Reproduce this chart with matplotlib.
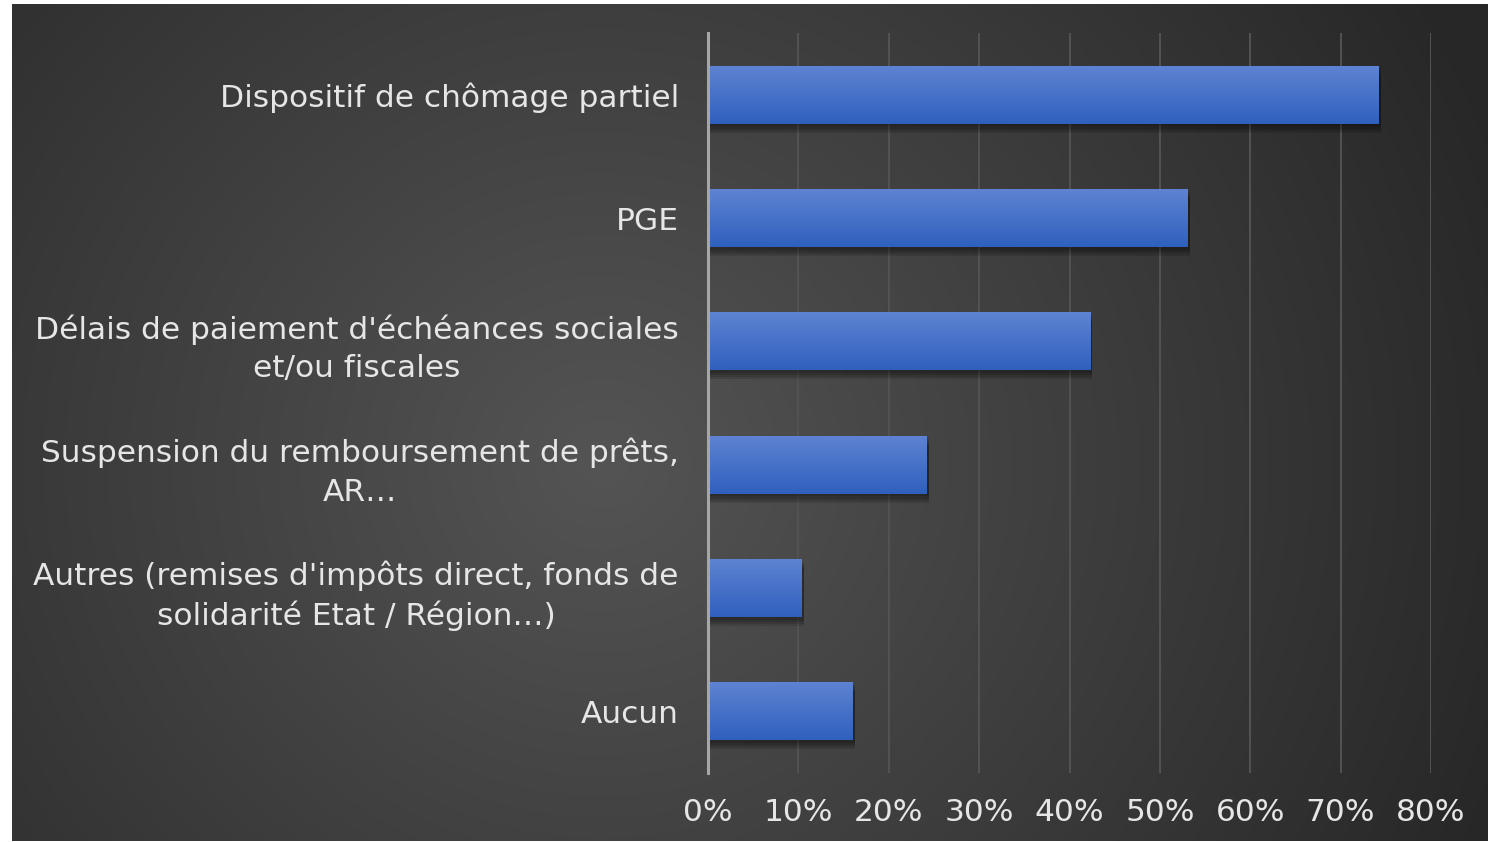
import numpy as np
import matplotlib
matplotlib.use("Agg")
import matplotlib.pyplot as plt
import matplotlib.patheffects as pe
import matplotlib.transforms as mtransforms
from matplotlib.ticker import PercentFormatter

# ── data ─────────────────────────────────────────────────────────────────────
categories = [
    "Dispositif de chômage partiel",
    "PGE",
    "Délais de paiement d'échéances sociales\net/ou fiscales",
    "Suspension du remboursement de prêts,\nAR…",
    "Autres (remises d'impôts direct, fonds de\nsolidarité Etat / Région…)",
    "Aucun",
]
values = [74.2, 53.1, 42.3, 24.2, 10.4, 16.0]
x_ticks = [0, 10, 20, 30, 40, 50, 60, 70, 80]

W, H = 1499, 842
plt.rcParams["font.family"] = ["DejaVu Sans"]

fig = plt.figure(figsize=(W / 100, H / 100), dpi=100, facecolor="white")

# ── radial gradient background ───────────────────────────────────────────────
bg = fig.add_axes([12 / W, 1 / H, (1488 - 12) / W, (841 - 4) / H])
bg.set_axis_off()
gx, gy = np.meshgrid(np.linspace(0, 1, 600), np.linspace(0, 1, 340))
r = np.sqrt(((gx - 0.40) * 1.7) ** 2 + (gy - 0.45) ** 2)
shade = np.clip(1 - r / 1.1, 0, 1)
level = 0.155 + (0.33 - 0.155) * shade
bg.imshow(np.dstack([level, level, level]), extent=[0, 1, 0, 1],
          aspect="auto", origin="lower", interpolation="bicubic")
bg.set_xlim(0, 1)
bg.set_ylim(0, 1)

# ── chart ────────────────────────────────────────────────────────────────────
ax = fig.add_axes([708 / W, 1 - 773 / H, (1431 - 708) / W, (773 - 33) / H])
ax.patch.set_alpha(0)
ypos = np.arange(len(categories))

# soft shadow: a few stacked translucent offsets
shadow = [pe.SimplePatchShadow(offset=(1.5, -k), alpha=0.12, shadow_rgbFace="black")
          for k in (2, 3.5, 5, 6.5)]
bars = ax.barh(ypos, values, height=0.47, color="#3f6cc8", zorder=3,
               path_effects=shadow + [pe.Normal()])

# vertical gradient inside each bar (light on top, darker at bottom)
grad = np.linspace(0, 1, 256).reshape(-1, 1)
top = np.array([0x5e, 0x83, 0xd2]) / 255
bottom = np.array([0x2f, 0x60, 0xbe]) / 255
rgb = (top + (bottom - top) * grad[..., None]).reshape(256, 1, 3)
for b in bars:
    x0, y0 = b.get_x(), b.get_y()
    im = ax.imshow(rgb, extent=[x0, x0 + b.get_width(), y0 + b.get_height(), y0],
                   aspect="auto", origin="upper", zorder=4)
    im.set_clip_path(b)

ax.set_xlim(0, 80)
ax.set_ylim(len(categories) - 0.5, -0.5)
ax.set_xticks(x_ticks)
ax.xaxis.set_major_formatter(PercentFormatter(decimals=0))
ax.set_yticks(ypos)
ax.set_yticklabels(categories)
shift_up = mtransforms.ScaledTranslation(0, 4 / 100, fig.dpi_scale_trans)
for lbl in ax.get_yticklabels():
    lbl.set_multialignment("center")
    lbl.set_linespacing(1.4)
    lbl.set_transform(lbl.get_transform() + shift_up)

ax.grid(axis="x", color="#535353", linewidth=1.4, zorder=0)
ax.set_axisbelow(True)
for s in ["top", "right", "bottom"]:
    ax.spines[s].set_visible(False)
ax.spines["left"].set_color("#a6a6a6")
ax.spines["left"].set_linewidth(2.2)
ax.spines["left"].set_zorder(5)

ax.tick_params(axis="both", length=0, colors="#e6e6e6", labelsize=22.5)
ax.tick_params(axis="y", pad=21)
ax.tick_params(axis="x", pad=18)

fig.savefig("out.png", dpi=100, facecolor="white")
